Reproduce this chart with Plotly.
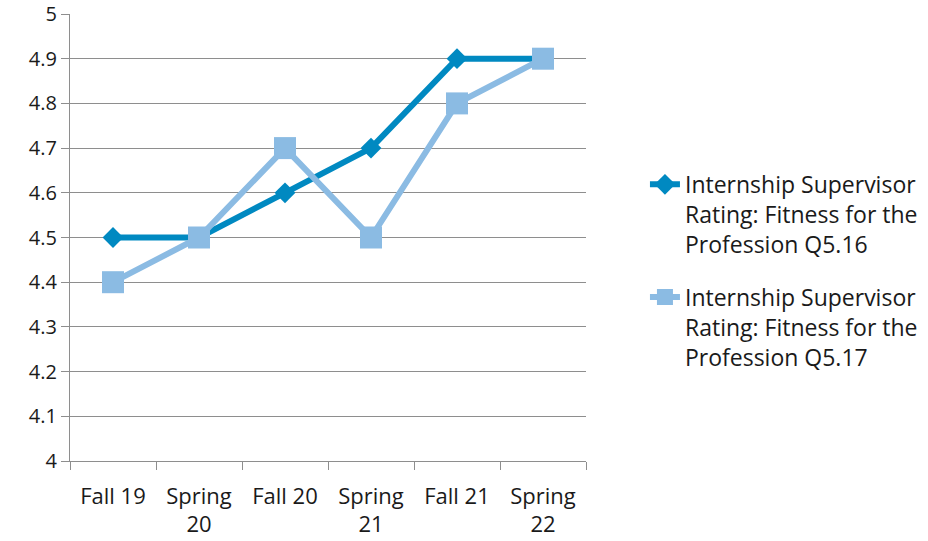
import plotly.graph_objects as go

categories = ["Fall 19", "Spring<br>20", "Fall 20", "Spring<br>21", "Fall 21", "Spring<br>22"]
q516 = [4.5, 4.5, 4.6, 4.7, 4.9, 4.9]
q517 = [4.4, 4.5, 4.7, 4.5, 4.8, 4.9]
name516 = "Internship Supervisor<br>Rating: Fitness for the<br>Profession Q5.16"
name517 = "Internship Supervisor<br>Rating: Fitness for the<br>Profession Q5.17"
y_ticks = [4.0, 4.1, 4.2, 4.3, 4.4, 4.5, 4.6, 4.7, 4.8, 4.9, 5.0]
y_labels = ["4", "4.1", "4.2", "4.3", "4.4", "4.5", "4.6", "4.7", "4.8", "4.9", "5"]

FONT = "'Open Sans', Lato, sans-serif"
GRID = "#8E8E8E"
TXT = "#1a1a1a"

fig = go.Figure()
fig.add_trace(go.Scatter(
    x=categories, y=q516, name=name516, mode="lines+markers", legendgroup="a",
    line=dict(color="#0089C1", width=6),
    marker=dict(symbol="diamond", size=16, color="#0089C1"),
))
fig.add_trace(go.Scatter(
    x=categories, y=q517, name=name517, mode="lines+markers", legendgroup="b",
    line=dict(color="#8BBBE3", width=6),
    marker=dict(symbol="square", size=22, color="#8BBBE3"),
))

fig.update_layout(
    width=928, height=541,
    margin=dict(l=70, r=342, t=14, b=80),
    paper_bgcolor="white", plot_bgcolor="white",
    font=dict(family=FONT, size=22, color=TXT),
    showlegend=True,
    legend=dict(
        xref="container", yref="container",
        x=0.695, y=0.699, xanchor="left", yanchor="top",
        valign="top", tracegroupgap=20,
        font=dict(family=FONT, size=23, color=TXT),
        bgcolor="rgba(0,0,0,0)", itemwidth=30,
    ),
    xaxis=dict(
        type="category", range=[-0.5, 5.5], automargin=False,
        showgrid=False, showline=True, linecolor=GRID, linewidth=1.3,
        ticks="outside", tickson="boundaries", ticklen=8, tickcolor=GRID,
        tickwidth=1.3, ticklabelstandoff=15,
        tickfont=dict(family=FONT, size=22, color=TXT),
        zeroline=False,
    ),
    yaxis=dict(
        range=[4.0, 5.0], tickvals=y_ticks, ticktext=y_labels, automargin=False,
        showgrid=True, gridcolor=GRID, gridwidth=1.3,
        showline=True, linecolor=GRID, linewidth=1.3,
        ticks="outside", ticklen=8, tickcolor=GRID, tickwidth=1.3,
        tickfont=dict(family=FONT, size=20, color=TXT),
        zeroline=False,
    ),
)

fig.write_html("out.html")
